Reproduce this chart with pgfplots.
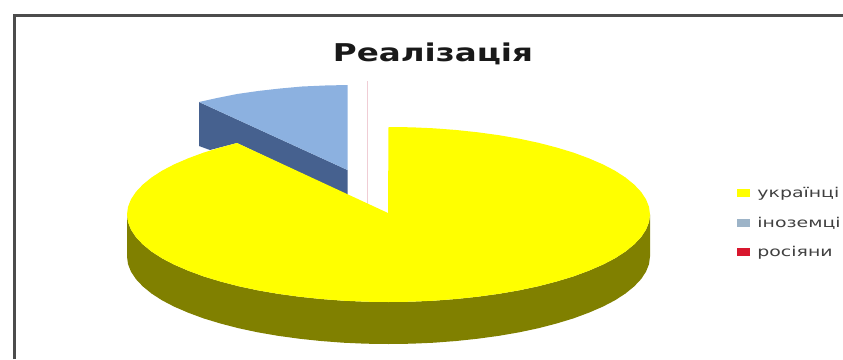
\documentclass[border=0pt]{standalone}
\usepackage{fontspec}
\setmainfont{DejaVu Sans}
\usepackage{pgfplots}
\pgfplotsset{compat=1.18}
\definecolor{sliceyellow}{HTML}{FFFF00}
\definecolor{sideyellow}{HTML}{808000}
\definecolor{sliceblue}{HTML}{8CB1E0}
\definecolor{sideblue}{HTML}{46618F}
\definecolor{slicered}{HTML}{F0CDD5}
\definecolor{swatchblue}{HTML}{9DB4C8}
\definecolor{swatchred}{HTML}{D8172E}
\newcommand{\entry}[1]{\hspace{6pt}\scalebox{1.4}[1]{#1}}
\begin{document}
\begin{tikzpicture}
\clip (0,0) rectangle (843pt,359pt);
\begin{axis}[
  at={(0pt,0pt)}, anchor=south west,
  scale only axis, width=843pt, height=359pt,
  xmin=0, xmax=843, ymin=0, ymax=359, y dir=reverse,
  hide axis, clip=false,
  legend style={at={(0.8745,0.4822)}, anchor=north west, draw=none, fill=none,
    font=\fontsize{13.5}{15}\selectfont\color{black!75}, row sep=16pt,
    inner sep=0pt, nodes={inner sep=1pt}},
  legend cell align=left,
  legend image code/.code={\path[#1] (0pt,-4pt) rectangle (13pt,4pt);},
]
% Frame of the chart area
\addplot[forget plot, draw=black!70, line width=2.4pt] coordinates {(14.5,359) (14.5,15.5) (843,15.5)};

% Exploded slice: cut wall, then its top face
\addplot[forget plot, fill=sideblue, draw=none] coordinates {
  (199,102) (347.5,170) (347.5,195) (237,143) (210,150) (199,146)} -- cycle;
\addplot[forget plot, fill=sliceblue, draw=none] coordinates {
  (347.5,85) (325,85.5) (302,86.5) (280,88.5) (258,91) (237,94) (217,98) (199,102) (347.5,170)} -- cycle;

% Almost empty slice, seen edge-on
\addplot[forget plot, draw=slicered, line width=1pt] coordinates {(367,81) (367,204)};

% Rim of the large slice
\addplot[forget plot, fill=sideyellow, draw=none] coordinates {
  (650,214.5) (649,222.1) (646,229.7) (641.1,237.1) (634.2,244.4) (625.5,251.5) (615,258.3)
  (602.7,264.7) (588.8,270.7) (573.4,276.4) (556.6,281.5) (538.5,286.2) (519.3,290.3)
  (499,293.8) (477.9,296.7) (456.2,299) (433.9,300.7) (411.3,301.7) (388.5,302)
  (365.7,301.7) (343.1,300.7) (320.8,299) (299.1,296.7) (278,293.8) (257.7,290.3)
  (238.5,286.2) (220.4,281.5) (203.6,276.4) (188.2,270.7) (174.3,264.7) (162,258.3)
  (151.5,251.5) (142.8,244.4) (135.9,237.1) (131,229.7) (128,222.1) (127,214.5)
  (127,256.5) (128,264.1) (131,271.7) (135.9,279.1) (142.8,286.4) (151.5,293.5) (162,300.3)
  (174.3,306.7) (188.2,312.7) (203.6,318.4) (220.4,323.5) (238.5,328.2) (257.7,332.3)
  (278,335.8) (299.1,338.7) (320.8,341) (343.1,342.7) (365.7,343.7) (388.5,344)
  (411.3,343.7) (433.9,342.7) (456.2,341) (477.9,338.7) (499,335.8) (519.3,332.3)
  (538.5,328.2) (556.6,323.5) (573.4,318.4) (588.8,312.7) (602.7,306.7) (615,300.3)
  (625.5,293.5) (634.2,286.4) (641.1,279.1) (646,271.7) (649,264.1) (650,256.5)} -- cycle;

% Top face of the large slice
\addplot[forget plot, fill=sliceyellow, draw=none] coordinates {
  (388,213) (388.5,127) (411.3,127.3) (433.9,128.3) (456.2,130) (477.9,132.3) (499,135.2)
  (519.3,138.7) (538.5,142.8) (556.6,147.5) (573.4,152.6) (588.8,158.3) (602.7,164.3)
  (615,170.7) (625.5,177.5) (634.2,184.6) (641.1,191.9) (646,199.3) (649,206.9) (650,214.5)
  (649,222.1) (646,229.7) (641.1,237.1) (634.2,244.4) (625.5,251.5) (615,258.3) (602.7,264.7)
  (588.8,270.7) (573.4,276.4) (556.6,281.5) (538.5,286.2) (519.3,290.3) (499,293.8)
  (477.9,296.7) (456.2,299) (433.9,300.7) (411.3,301.7) (388.5,302) (365.7,301.7)
  (343.1,300.7) (320.8,299) (299.1,296.7) (278,293.8) (257.7,290.3) (238.5,286.2)
  (220.4,281.5) (203.6,276.4) (188.2,270.7) (174.3,264.7) (162,258.3) (151.5,251.5)
  (142.8,244.4) (135.9,237.1) (131,229.7) (128,222.1) (127,214.5) (128,206.9) (131,199.3)
  (135.9,191.9) (142.8,184.6) (151.5,177.5) (162,170.7) (174.3,164.3) (188.2,158.3)
  (203.6,152.6) (220.4,147.5) (237,143)} -- cycle;

\addlegendimage{fill=sliceyellow, draw=none}
\addlegendentry{\entry{українці}}
\addlegendimage{fill=swatchblue, draw=none}
\addlegendentry{\entry{іноземці}}
\addlegendimage{fill=swatchred, draw=none}
\addlegendentry{\entry{росіяни}}

\node[text=black!90, anchor=base, inner sep=0pt] at (axis cs:433,61)
  {\scalebox{1.33}[1]{\bfseries\fontsize{24.5}{28}\selectfont Реалізація}};
\end{axis}
\end{tikzpicture}
\end{document}
